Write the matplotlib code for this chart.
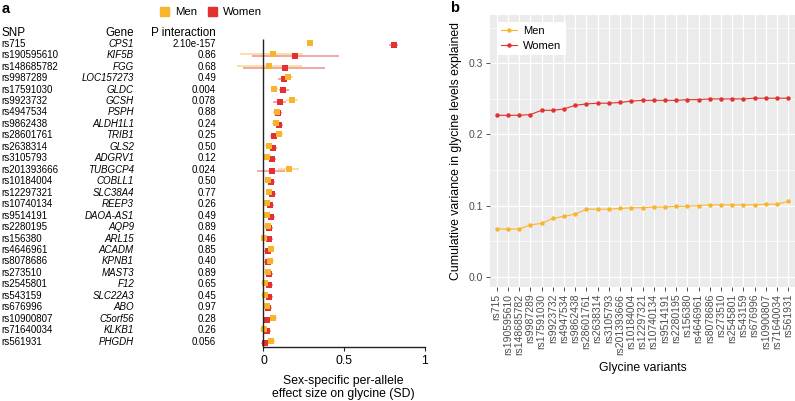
import matplotlib
matplotlib.use('Agg')
from matplotlib import pyplot as plt
from matplotlib.patches import Patch
from matplotlib.transforms import blended_transform_factory
import numpy as np

plt.rcParams['font.family'] = ['Liberation Sans', 'DejaVu Sans']

snps = ['rs715', 'rs190595610', 'rs148685782', 'rs9987289', 'rs17591030', 'rs9923732',
        'rs4947534', 'rs9862438', 'rs28601761', 'rs2638314', 'rs3105793', 'rs201393666',
        'rs10184004', 'rs12297321', 'rs10740134', 'rs9514191', 'rs2280195', 'rs156380',
        'rs4646961', 'rs8078686', 'rs273510', 'rs2545801', 'rs543159', 'rs676996',
        'rs10900807', 'rs71640034', 'rs561931']
genes = ['CPS1', 'KIF5B', 'FGG', 'LOC157273', 'GLDC', 'GCSH', 'PSPH', 'ALDH1L1', 'TRIB1',
         'GLS2', 'ADGRV1', 'TUBGCP4', 'COBLL1', 'SLC38A4', 'REEP3', 'DAOA-AS1', 'AQP9',
         'ARL15', 'ACADM', 'KPNB1', 'MAST3', 'F12', 'SLC22A3', 'ABO', 'C5orf56', 'KLKB1',
         'PHGDH']
p_interaction = ['2.10e-157', '0.86', '0.68', '0.49', '0.004', '0.078', '0.88', '0.24', '0.25',
                 '0.50', '0.12', '0.024', '0.50', '0.77', '0.26', '0.49', '0.89', '0.46',
                 '0.85', '0.40', '0.89', '0.65', '0.45', '0.97', '0.28', '0.26', '0.056']

# per-allele effects (SD) and confidence limits
men_beta = [0.29, 0.057, 0.032, 0.149, 0.067, 0.174, 0.081, 0.077, 0.098, 0.036, 0.024,
            0.157, 0.030, 0.036, 0.020, 0.022, 0.028, 0.005, 0.044, 0.042, 0.028, 0.009,
            0.009, 0.022, 0.059, 0.003, 0.046]
men_lo = [0.275, -0.145, -0.165, 0.120, 0.047, 0.139, 0.058, 0.055, 0.075, 0.012, 0.000,
          0.090, 0.007, 0.013, -0.003, -0.001, 0.005, -0.018, 0.021, 0.019, 0.005, -0.014,
          -0.014, -0.001, 0.036, -0.020, 0.023]
men_hi = [0.305, 0.246, 0.236, 0.184, 0.087, 0.213, 0.104, 0.099, 0.121, 0.060, 0.048,
          0.220, 0.053, 0.059, 0.043, 0.045, 0.051, 0.028, 0.067, 0.065, 0.051, 0.032,
          0.032, 0.045, 0.082, 0.026, 0.069]
women_beta = [0.805, 0.196, 0.133, 0.128, 0.123, 0.102, 0.092, 0.094, 0.067, 0.056, 0.052,
              0.050, 0.048, 0.050, 0.042, 0.044, 0.036, 0.036, 0.030, 0.030, 0.032, 0.032,
              0.032, 0.028, 0.024, 0.024, 0.011]
women_lo = [0.780, -0.073, -0.125, 0.093, 0.098, 0.062, 0.067, 0.069, 0.040, 0.030, 0.027,
            -0.038, 0.023, 0.025, 0.017, 0.019, 0.011, 0.011, 0.005, 0.005, 0.007, 0.007,
            0.007, 0.003, -0.001, -0.001, -0.014]
women_hi = [0.830, 0.466, 0.384, 0.163, 0.157, 0.142, 0.117, 0.119, 0.094, 0.082, 0.077,
            0.133, 0.073, 0.075, 0.067, 0.069, 0.061, 0.061, 0.055, 0.055, 0.057, 0.057,
            0.057, 0.053, 0.049, 0.049, 0.036]

# cumulative variance explained
men_cum = [0.067, 0.067, 0.067, 0.073, 0.075, 0.082, 0.085, 0.088, 0.095, 0.095, 0.095,
           0.096, 0.097, 0.097, 0.098, 0.098, 0.099, 0.099, 0.100, 0.101, 0.101, 0.101,
           0.101, 0.101, 0.102, 0.102, 0.106]
women_cum = [0.227, 0.227, 0.227, 0.228, 0.234, 0.234, 0.236, 0.241, 0.243, 0.244, 0.244,
             0.245, 0.247, 0.248, 0.248, 0.248, 0.248, 0.249, 0.249, 0.250, 0.250, 0.250,
             0.250, 0.251, 0.251, 0.251, 0.251]

MEN = '#F9B42D'
WOMEN = '#E2322F'

fig = plt.figure(figsize=(7.95, 4.01), dpi=100)

# ---- panel a: forest plot ----
ax = fig.add_axes([236 / 795, 1 - 346.7 / 401, 189 / 795, (346.7 - 36) / 401])
rows = np.arange(len(snps))
men_beta = np.array(men_beta)
women_beta = np.array(women_beta)

ax.errorbar(women_beta, rows + 0.08,
            xerr=[women_beta - np.array(women_lo), np.array(women_hi) - women_beta],
            fmt='none', ecolor=WOMEN, alpha=0.55, elinewidth=1.1, capsize=0)
ax.errorbar(men_beta, rows - 0.08,
            xerr=[men_beta - np.array(men_lo), np.array(men_hi) - men_beta],
            fmt='none', ecolor=MEN, alpha=0.55, elinewidth=1.1, capsize=0)
ax.plot(women_beta, rows + 0.08, 's', color=WOMEN, markersize=4.8, markeredgewidth=0)
ax.plot(men_beta, rows - 0.08, 's', color=MEN, markersize=4.8, markeredgewidth=0)

ax.vlines(0, -0.4, 26.44, color='#222222', linewidth=1.0)
ax.set_xlim(-0.17, 1.0)
ax.set_ylim(26.44, -0.67)
ax.set_yticks([])
ax.set_xticks([0, 0.5, 1])
ax.set_xticklabels(['0', '0.5', '1'], fontsize=8.8)
ax.tick_params(axis='x', length=3, width=0.8, color='#222222', pad=3)
for s in ['top', 'right', 'left']:
    ax.spines[s].set_visible(False)
ax.spines['bottom'].set_bounds(0, 1)
ax.spines['bottom'].set_linewidth(1.0)
ax.spines['bottom'].set_color('#222222')
ax.set_xlabel('Sex-specific per-allele\neffect size on glycine (SD)', fontsize=8.8,
              linespacing=1.15)
ax.xaxis.set_label_coords((343 - 236) / 189, -0.09)

# table to the left
tr = blended_transform_factory(fig.transFigure, ax.transData)
for i in rows:
    ax.text(1 / 795, i, snps[i], transform=tr, ha='left', va='center', fontsize=7.0,
            clip_on=False)
    ax.text(134 / 795, i, genes[i], transform=tr, ha='right', va='center', fontsize=7.0,
            style='italic', clip_on=False)
    ax.text(216 / 795, i, p_interaction[i], transform=tr, ha='right', va='center',
            fontsize=7.0, clip_on=False)
fig.text(1 / 795, 1 - 32.7 / 401, 'SNP', ha='left', va='center', fontsize=8.4)
fig.text(134 / 795, 1 - 32.7 / 401, 'Gene', ha='right', va='center', fontsize=8.4)
fig.text(216 / 795, 1 - 32.7 / 401, 'P interaction', ha='right', va='center', fontsize=8.4)
fig.text(2 / 795, 1 - 9 / 401, 'a', ha='left', va='center', fontsize=10.5, fontweight='bold')

fig.legend(handles=[Patch(color=MEN, label='Men'), Patch(color=WOMEN, label='Women')],
           loc='center', bbox_to_anchor=(211 / 795, 1 - 12.3 / 401), ncol=2, frameon=False,
           fontsize=8.2, handlelength=0.8, handleheight=0.8, handletextpad=0.5,
           columnspacing=1.0)

# ---- panel b: cumulative variance ----
ax2 = fig.add_axes([490 / 795, 1 - 286.7 / 401, 305 / 795, (286.7 - 15) / 401])
xs = np.arange(len(snps))
ax2.set_facecolor('#EBEBEB')
ax2.plot(xs, men_cum, '-o', color=MEN, linewidth=0.8, markersize=2.2, label='Men')
ax2.plot(xs, women_cum, '-o', color=WOMEN, linewidth=0.8, markersize=2.2, label='Women')
ax2.set_xlim(-0.6, 26.6)
ax2.set_ylim(-0.014, 0.368)
ax2.set_yticks([0.0, 0.1, 0.2, 0.3])
ax2.set_yticklabels(['0.0', '0.1', '0.2', '0.3'])
ax2.set_yticks([0.05, 0.15, 0.25, 0.35], minor=True)
ax2.set_xticks(xs)
ax2.set_xticklabels(snps, rotation=90)
ax2.grid(which='major', color='white', linewidth=0.9)
ax2.grid(which='minor', axis='y', color='white', linewidth=0.45)
ax2.set_axisbelow(True)
for s in ax2.spines.values():
    s.set_visible(False)
ax2.tick_params(axis='both', which='major', length=3, width=0.6, color='#333333',
                labelcolor='#4D4D4D', labelsize=7.5, pad=2)
ax2.tick_params(axis='y', which='minor', length=0)
ax2.set_xlabel('Glycine variants', fontsize=8.8, labelpad=5)
ax2.set_ylabel('Cumulative variance in glycine levels explained', fontsize=8.8, labelpad=5)
ax2.legend(loc='upper left', fontsize=8, frameon=True, facecolor='white', edgecolor='none',
           framealpha=1, fancybox=False, borderaxespad=0.6, handlelength=1.4,
           handletextpad=0.6, borderpad=0.4, labelspacing=0.4)
fig.text(450 / 795, 1 - 8 / 401, 'b', ha='left', va='center', fontsize=10.5, fontweight='bold')

fig.savefig('out.png', dpi=100)
